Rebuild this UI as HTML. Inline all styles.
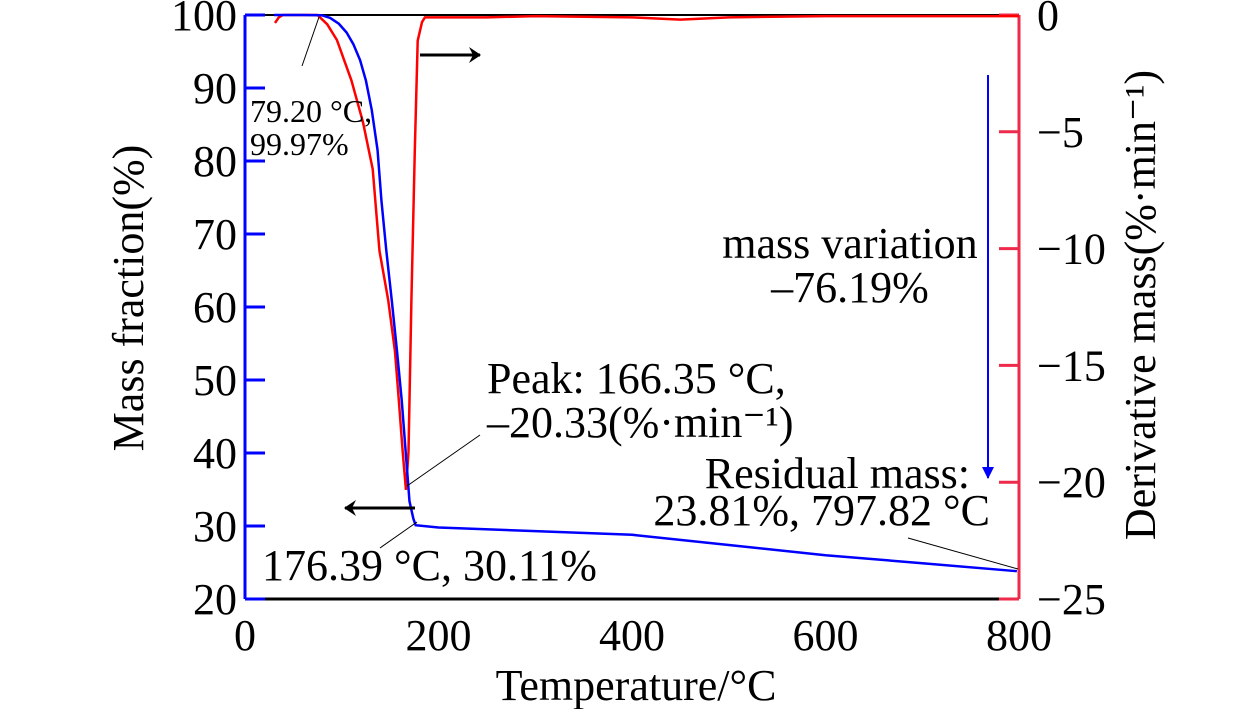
<!DOCTYPE html>
<html><head><meta charset="utf-8"><style>
body{margin:0;background:#fff;}
svg text{font-family:"Liberation Serif",serif;fill:#000;}
</style></head><body>
<svg id="c" width="1260" height="709" viewBox="0 0 1260 709">
<defs>
<marker id="abl" markerWidth="12" markerHeight="16" refX="11" refY="8" orient="auto" markerUnits="userSpaceOnUse"><path d="M0,0L12,8L0,16L4,8z" fill="#000"/></marker>
<marker id="ablue" markerWidth="12" markerHeight="16" refX="11" refY="6" orient="auto" markerUnits="userSpaceOnUse"><path d="M0,0L12,6L0,12z" fill="#0000ff"/></marker>
</defs>
<g id="plot"></g>
</svg>
<script>
const tempTGA=[30,60,79.2,88,97,105,112,119,125,131,137,141,146,151.7,157,162,166,170,174,176.39,200,300,400,500,600,700,797.82];
const massTGA=[100,100,99.97,99.6,98.8,97.6,96,93.8,91,87,81.5,74.6,67.8,60.9,54.1,47.2,40.3,33.4,31,30.11,29.8,29.3,28.8,27.4,26,24.9,23.81];
const tempDTG=[31,35,39,60,75,85,95,110,122,132,139,148,155,159,163,166.35,169,172,175.5,178.5,183,186,250,300,400,450,500,600,700,800];
const dtgVals=[-0.34,-0.1,0,0,0,-0.4,-1.07,-2.8,-4.6,-6.6,-10.1,-12.2,-14.4,-16.5,-18.7,-20.33,-18.7,-12.2,-5.8,-1.1,-0.3,-0.1,-0.1,-0.05,-0.1,-0.2,-0.1,-0.05,-0.05,-0.05];
const xTicks=[0,200,400,600,800];
const yLeftTicks=[20,30,40,50,60,70,80,90,100];
const yRightTicks=[0,-5,-10,-15,-20,-25];

const X0=245,X1=1019,YT=15,YB=599;
const sx=t=>X0+(t-0)/800*(X1-X0);
const syL=v=>YB-(v-20)/80*(YB-YT);
const syR=v=>YT+(0-v)/25*(YB-YT);
const NS='http://www.w3.org/2000/svg';
const g=document.getElementById('plot');
function mk(tag,attrs,parent){const e=document.createElementNS(NS,tag);for(const k in attrs)e.setAttribute(k,attrs[k]);(parent||g).appendChild(e);return e;}
function txt(x,y,s,size,anchor,name){const t=mk('text',{x:x,y:y,'font-size':size,'text-anchor':anchor||'start'});t.textContent=s;


return t;}

let a=mk('line',{x1:X0,y1:YT,x2:X1,y2:YT,stroke:'#000','stroke-width':2});


a=mk('line',{x1:X0,y1:YB,x2:X1,y2:YB,stroke:'#000','stroke-width':3});


a=mk('line',{x1:X0,y1:YT,x2:X0,y2:YB,stroke:'#0000ff','stroke-width':3});


a=mk('line',{x1:X1,y1:YT,x2:X1,y2:YB,stroke:'#ee2a4a','stroke-width':3});



xTicks.forEach(t=>{txt(sx(t),650,String(t),44,'middle','x-tick-label');});
yLeftTicks.forEach(v=>{const y=syL(v);
 const l=mk('line',{x1:X0,y1:y,x2:X0+20,y2:y,stroke:'#0000ff','stroke-width':3});
 
 
 txt(X0-8,y+15,String(v),44,'end','y-left-tick-label');});
yRightTicks.forEach(v=>{const y=syR(v);
 const l=mk('line',{x1:X1-20,y1:y,x2:X1,y2:y,stroke:'#ee2a4a','stroke-width':3});
 
 
 txt(1037,y+15,(v<0?'\u2212':'')+Math.abs(v),44,'start','y-right-tick-label');});

let p=mk('polyline',{points:tempDTG.map((t,i)=>sx(t)+','+syR(dtgVals[i])).join(' '),fill:'none',stroke:'#ff0000','stroke-width':2.5});


p=mk('polyline',{points:tempTGA.map((t,i)=>sx(t)+','+syL(massTGA[i])).join(' '),fill:'none',stroke:'#0000ff','stroke-width':2.5});



function ln(x1,y1,x2,y2,st,w,m,name){const l=mk('line',{x1:x1,y1:y1,x2:x2,y2:y2,stroke:st,'stroke-width':w});if(m)l.setAttribute('marker-end','url(#'+m+')');

}
ln(420,55,480,55,'#000',3,'abl','right-axis-arrow');
ln(415,508,345,508,'#000',3,'abl','left-axis-arrow');
ln(988,75,988,478,'#0000ff',2,'ablue','mass-variation-arrow');
ln(302,66,319,17,'#000',1,null,'onset-leader');
ln(407,486,480,435,'#000',1,null,'peak-leader');
ln(417,522,380,548,'#000',1,null,'end-leader');
ln(908,538,1018,569,'#000',1,null,'residual-leader');

txt(250,122,'79.20 °C,',32,'start','onset-label');
txt(250,155,'99.97%',32,'start','onset-value');
txt(487,393,'Peak: 166.35 °C,',44,'start','peak-label');
txt(487,437,'\u201320.33(%·min\u207B\u00B9)',44,'start','peak-value');
txt(262,580,'176.39 °C, 30.11%',44,'start','end-label');
txt(850,258,'mass variation',44,'middle','mass-variation-label');
txt(850,302,'\u201376.19%',44,'middle','mass-variation-value');
txt(970,488,'Residual mass:',44,'end','residual-label');
txt(990,525,'23.81%, 797.82 °C',44,'end','residual-value');

txt(636,700,'Temperature/°C',44,'middle','x-axis-title');
let t=txt(0,0,'Mass fraction(%)',44,'middle','y-axis-left-title');t.setAttribute('transform','translate(143,298) rotate(-90)');
t=txt(0,0,'Derivative mass(%·min\u207B\u00B9)',44,'middle','y-axis-right-title');t.setAttribute('transform','translate(1155,305) rotate(-90)');
</script>
</body></html>
